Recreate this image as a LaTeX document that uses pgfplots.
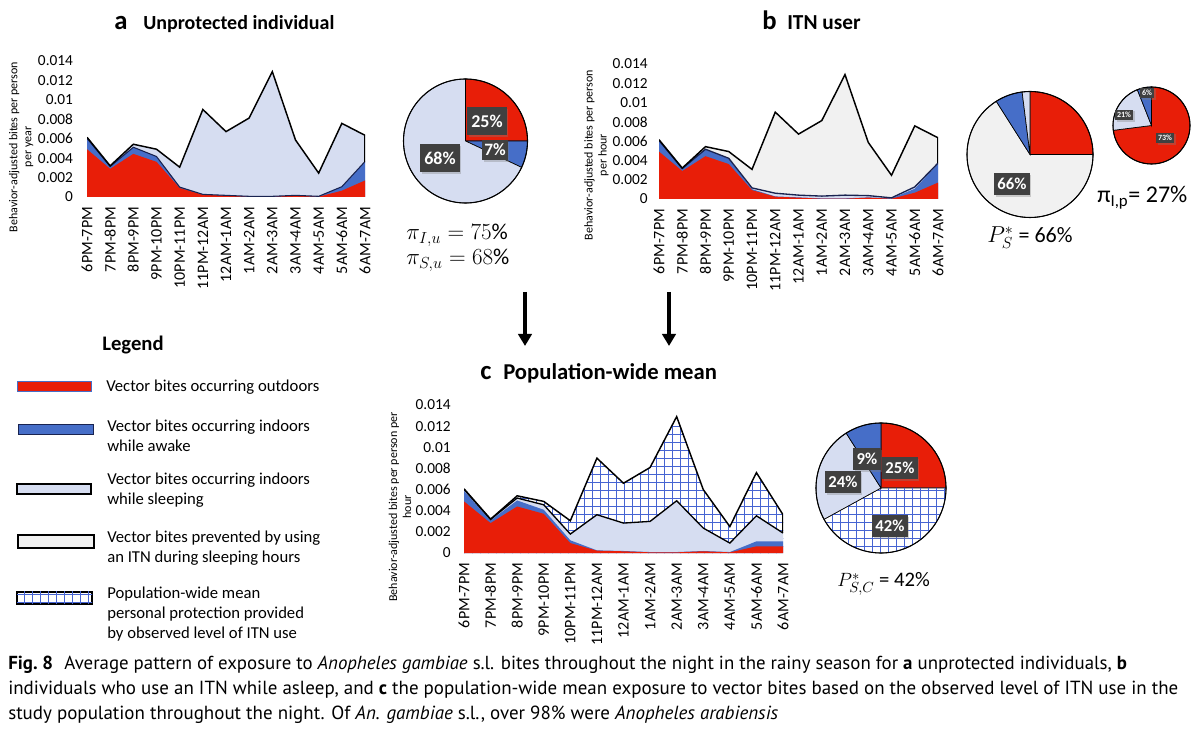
\documentclass[border=0pt]{standalone}
\usepackage{pgfplots}
\pgfplotsset{compat=1.18}
\usepackage{pgfplotstable}
\usepackage{graphicx}
\usepackage{fontspec}
\setmainfont{Carlito}
\newfontfamily\capfont{PT Sans}
\usetikzlibrary{patterns,shadows,arrows.meta}

\definecolor{cRed}{RGB}{232,30,8}
\definecolor{cBlue}{RGB}{70,110,200}
\definecolor{cLB}{RGB}{214,221,241}
\definecolor{cGray}{RGB}{241,241,241}
\definecolor{cGrid}{RGB}{70,100,210}
\definecolor{cNavy}{RGB}{25,35,80}
\definecolor{cBox}{RGB}{64,64,64}

\pgfdeclarepatternformonly{mygrid}{\pgfqpoint{-1pt}{-1pt}}{\pgfqpoint{7pt}{7pt}}{\pgfqpoint{6pt}{6pt}}{%
  \pgfsetlinewidth{0.6pt}%
  \pgfpathmoveto{\pgfqpoint{-1pt}{0pt}}\pgfpathlineto{\pgfqpoint{7pt}{0pt}}%
  \pgfpathmoveto{\pgfqpoint{0pt}{-1pt}}\pgfpathlineto{\pgfqpoint{0pt}{7pt}}%
  \pgfusepath{stroke}}

% Panel a: cumulative layers (outdoor, +indoor awake, total incl. indoor sleeping)
\pgfplotstableread{
x red rb tot
0 0.00492 0.00604 0.00615
1 0.00290 0.00314 0.00321
2 0.00444 0.00512 0.00543
3 0.00362 0.00417 0.00492
4 0.00092 0.00102 0.00307
5 0.00024 0.00027 0.00901
6 0.00014 0.00017 0.00673
7 0.00003 0.00007 0.00813
8 0.00003 0.00007 0.01290
9 0.00014 0.00017 0.00587
10 0.00003 0.00007 0.00246
11 0.00065 0.00106 0.00758
12 0.00170 0.00365 0.00635
}\dataA
% Panel b: outdoor, +awake, +sleeping under ITN, total (incl. prevented)
\pgfplotstableread{
x red rb rbs tot
0 0.00492 0.00604 0.00607 0.00615
1 0.00290 0.00314 0.00316 0.00321
2 0.00444 0.00512 0.00516 0.00543
3 0.00362 0.00417 0.00422 0.00492
4 0.00092 0.00102 0.00115 0.00307
5 0.00024 0.00027 0.00060 0.00901
6 0.00014 0.00017 0.00040 0.00673
7 0.00003 0.00007 0.00030 0.00813
8 0.00003 0.00007 0.00040 0.01290
9 0.00014 0.00017 0.00035 0.00587
10 0.00003 0.00007 0.00012 0.00246
11 0.00065 0.00106 0.00125 0.00758
12 0.00170 0.00365 0.00372 0.00635
}\dataB
% Panel c: outdoor, +awake, +sleeping (mean), total (incl. protection)
\pgfplotstableread{
x red rb rbs tot
0 0.00488 0.00588 0.00603 0.00607
1 0.00283 0.00308 0.00318 0.00320
2 0.00440 0.00497 0.00520 0.00541
3 0.00371 0.00409 0.00456 0.00488
4 0.00094 0.00120 0.00179 0.00305
5 0.00022 0.00025 0.00362 0.00897
6 0.00016 0.00019 0.00283 0.00660
7 0.00006 0.00009 0.00299 0.00809
8 0.00006 0.00009 0.00494 0.01290
9 0.00016 0.00019 0.00236 0.00600
10 0.00006 0.00009 0.00094 0.00250
11 0.00063 0.00110 0.00352 0.00760
12 0.00063 0.00110 0.00189 0.00362
}\dataC

\pgfplotsset{
  panel/.style={
    scale only axis, xmin=0, xmax=12, ymin=0, ymax=0.014,
    axis line style={draw=none}, tick style={draw=none},
    xtick={0,...,12},
    xticklabels={6PM-7PM,7PM-8PM,8PM-9PM,9PM-10PM,10PM-11PM,11PM-12AM,12AM-1AM,1AM-2AM,2AM-3AM,3AM-4AM,4AM-5AM,5AM-6AM,6AM-7AM},
    ytick={0,0.002,0.004,0.006,0.008,0.01,0.012,0.014},
    yticklabels={0,0.002,0.004,0.006,0.008,0.01,0.012,0.014},
    scaled y ticks=false,
    xticklabel style={rotate=90, anchor=east, font=\fontsize{12}{13}\selectfont},
    yticklabel style={font=\fontsize{11.5}{13}\selectfont},
    xticklabel shift=4pt,
    no marks,
    ylabel style={anchor=center, align=center, font=\fontsize{9}{10.5}\selectfont},
  },
}
\tikzset{
  pR/.style={fill=cRed, draw=black, line width=0.5pt},
  pB/.style={fill=cBlue, draw=black, line width=0.5pt},
  pL/.style={fill=cLB, draw=black, line width=0.5pt},
  pG/.style={fill=cGray, draw=black, line width=0.5pt},
  pH/.style={fill=white, postaction={pattern=mygrid, pattern color=cGrid}, draw=black, line width=0.5pt},
  lab/.style={fill=cBox, text=white, font=\bfseries, inner xsep=2pt, inner ysep=1pt,
    drop shadow={shadow xshift=1.2pt, shadow yshift=-1.2pt, opacity=0.35}},
}
\newcommand{\pie}[4]{%
  \begin{scope}[shift={({#1*0.75pt},{-#2*0.75pt})}]
    \xdef\acc{90}%
    \foreach \v/\s in {#4}{%
      \pgfmathsetmacro\anext{\acc-3.6*\v}%
      \path[\s] (0,0) -- ({\acc}:{#3*0.75pt}) arc[start angle=\acc, end angle=\anext, radius={#3*0.75pt}] -- cycle;
      \global\let\acc\anext
    }%
    \draw[line width=0.8pt] (0,0) circle[radius={#3*0.75pt}];
  \end{scope}}

\begin{document}
\begin{tikzpicture}
\fill[white] (0,0) rectangle (900pt,-547.5pt);
\path[use as bounding box] (0,0) rectangle (900pt,-547.5pt);

% ---------- Panel a ----------
\begin{axis}[panel, at={(65.25pt,-147.75pt)}, anchor=south west,
  width=208.5pt, height=102pt, yticklabel shift=7pt,
  ylabel={Behavior-adjusted bites per person\\per year},
  ylabel style={at={(axis description cs:-0.237,0.368)}}]
  \addplot[fill=cLB, draw=none] table[x=x,y=tot]{\dataA} \closedcycle;
  \addplot[fill=cBlue, draw=none] table[x=x,y=rb]{\dataA} \closedcycle;
  \addplot[fill=cRed, draw=none] table[x=x,y=red]{\dataA} \closedcycle;
  \addplot[cNavy, line width=0.8pt] table[x=x,y=rb]{\dataA};
  \addplot[black, line width=1.1pt] table[x=x,y=tot]{\dataA};
  \addplot[black, line width=0.8pt] coordinates {(12,0.00365) (12,0.00635)};
\end{axis}

% ---------- Panel b ----------
\begin{axis}[panel, at={(494.25pt,-149.25pt)}, anchor=south west,
  width=209.25pt, height=101.25pt, yticklabel shift=5pt,
  ylabel={Behavior-adjusted bites per person\\per hour},
  ylabel style={at={(axis description cs:-0.224,0.326)}}]
  \addplot[fill=cGray, draw=none] table[x=x,y=tot]{\dataB} \closedcycle;
  \addplot[fill=cLB, draw=none] table[x=x,y=rbs]{\dataB} \closedcycle;
  \addplot[fill=cBlue, draw=none] table[x=x,y=rb]{\dataB} \closedcycle;
  \addplot[fill=cRed, draw=none] table[x=x,y=red]{\dataB} \closedcycle;
  \addplot[cNavy, line width=1pt] table[x=x,y=rbs]{\dataB};
  \addplot[black, line width=1.1pt] table[x=x,y=tot]{\dataB};
  \addplot[black, line width=0.8pt] coordinates {(12,0.00372) (12,0.00635)};
\end{axis}

% ---------- Panel c ----------
\begin{axis}[panel, at={(348pt,-414.75pt)}, anchor=south west,
  width=239.25pt, height=111pt, yticklabel shift=6.5pt,
  ylabel={Behavior-adjusted bites per person per\\hour},
  ylabel style={at={(axis description cs:-0.2006,0.311)}}]
  \addplot[pattern=mygrid, pattern color=cGrid, draw=none] table[x=x,y=tot]{\dataC} \closedcycle;
  \addplot[fill=cLB, draw=none] table[x=x,y=rbs]{\dataC} \closedcycle;
  \addplot[fill=cBlue, draw=none] table[x=x,y=rb]{\dataC} \closedcycle;
  \addplot[fill=cRed, draw=none] table[x=x,y=red]{\dataC} \closedcycle;
  \addplot[black, line width=1pt] table[x=x,y=rbs]{\dataC};
  \addplot[black, line width=1.1pt] table[x=x,y=tot]{\dataC};
  \addplot[black, line width=0.8pt] coordinates {(12,0.00189) (12,0.00362)};
\end{axis}

% ---------- Pies ----------
\pie{465.5}{141}{62}{25/pR,7/pB,68/pL}
\pie{1030}{154.5}{63}{25/pR,66/pG,7/pB,2/pL}
\pie{1151.5}{125.5}{38.5}{73/pR,21/pL,6/pB}
\pie{881}{488}{65}{25/pR,42/pH,24/pL,9/pB}

\begin{scope}[x=0.75pt,y=-0.75pt]
  % pie labels
  \node[lab, font=\bfseries\fontsize{13.5}{14}\selectfont, minimum height=21pt, inner xsep=3pt] at (487,121) {25\%};
  \node[lab, font=\bfseries\fontsize{13}{14}\selectfont, minimum height=15pt, inner xsep=1.5pt] at (495,150) {7\%};
  \node[lab, font=\bfseries\fontsize{13.5}{14}\selectfont, minimum height=21pt, inner xsep=3pt] at (440,158) {68\%};
  \node[lab, font=\bfseries\fontsize{12.5}{13}\selectfont, minimum height=16.5pt, inner xsep=2.5pt] at (1012,184) {66\%};
  \node[lab, font=\bfseries\fontsize{6}{7}\selectfont, minimum height=8pt, inner xsep=1.5pt] at (1147,93) {6\%};
  \node[lab, font=\bfseries\fontsize{6}{7}\selectfont, minimum height=8pt, inner xsep=1.5pt] at (1124,115) {21\%};
  \node[lab, font=\bfseries\fontsize{6}{7}\selectfont, minimum height=8pt, inner xsep=1.5pt] at (1165,138) {73\%};
  \node[lab, font=\bfseries\fontsize{12.5}{13}\selectfont, minimum height=16.5pt, inner xsep=2.5pt] at (867,459) {9\%};
  \node[lab, font=\bfseries\fontsize{12.5}{13}\selectfont, minimum height=16.5pt, inner xsep=2.5pt] at (900,468) {25\%};
  \node[lab, font=\bfseries\fontsize{12.5}{13}\selectfont, minimum height=16.5pt, inner xsep=2.5pt] at (843,482) {24\%};
  \node[lab, font=\bfseries\fontsize{12.5}{13}\selectfont, minimum height=16.5pt, inner xsep=2.5pt] at (890,526) {42\%};

  % formulas
  \node[anchor=base west, inner sep=0, font=\fontsize{17}{18}\selectfont] at (406,240) {$\pi_{I,u} = 75\%$};
  \node[anchor=base west, inner sep=0, font=\fontsize{17}{18}\selectfont] at (406,265) {$\pi_{S,u} = 68\%$};
  \node[anchor=base west, inner sep=0, font=\fontsize{16.5}{17}\selectfont] at (987,243) {$P^{*}_{S}$ = 66\%};
  \node[anchor=base west, inner sep=0, font=\fontsize{18}{19}\selectfont] at (1097,203) {π\textsubscript{I,p}= 27\%};
  \node[anchor=base west, inner sep=0, font=\fontsize{15.5}{16}\selectfont] at (837,587) {$P^{*}_{S,C}$ = 42\%};

  % panel titles
  \node[anchor=base west, inner sep=0, font=\bfseries\fontsize{20}{20}\selectfont] at (114,30) {a};
  \node[anchor=base west, inner sep=0, font=\bfseries\fontsize{15}{16}\selectfont] at (143,30) {Unprotected individual};
  \node[anchor=base west, inner sep=0, font=\bfseries\fontsize{20}{20}\selectfont] at (762,30) {b};
  \node[anchor=base west, inner sep=0, font=\bfseries\fontsize{16}{16}\selectfont] at (787,30) {ITN user};
  \node[anchor=base west, inner sep=0, font=\bfseries\fontsize{20}{20}\selectfont] at (480,380) {c};
  \node[anchor=base west, inner sep=0, font=\bfseries\fontsize{17}{18}\selectfont] at (503,380) {Population-wide mean};

  % arrows
  \draw[line width=2.8pt, -{Triangle[length=9pt,width=10pt]}] (525,292) -- (525,346);
  \draw[line width=2.8pt, -{Triangle[length=9pt,width=10pt]}] (669,292) -- (669,346);

  % legend
  \node[font=\bfseries\fontsize{15.5}{16}\selectfont] at (133,345) {Legend};
  \fill[cRed, draw=cBlue, line width=0.6pt] (17,381) rectangle (91,391);
  \fill[cBlue, draw=cNavy, line width=0.6pt] (18,424) rectangle (93,434);
  \fill[cLB, draw=black, line width=1.1pt] (17,484) rectangle (91,494);
  \fill[cGray, draw=black, line width=1.1pt] (18,535) rectangle (94,548);
  \path[fill=white, postaction={pattern=mygrid, pattern color=cGrid}, draw=black, line width=1.1pt] (17,592) rectangle (92,604);
  \begin{scope}[every node/.style={anchor=west, align=left, inner sep=0, font=\fontsize{12.5}{15}\selectfont}]
    \node at (106,387) {Vector bites occurring outdoors};
    \node at (107,436) {Vector bites occurring indoors\\while awake};
    \node at (107,490) {Vector bites occurring indoors\\while sleeping};
    \node at (107,548) {Vector bites prevented by using\\an ITN during sleeping hours};
    \node at (107,614) {Population-wide mean\\personal protection provided\\by observed level of ITN use};
  \end{scope}

  % caption
  \node[anchor=base west, inner sep=0] at (8,670) {\resizebox{839pt}{!}{\capfont\fontsize{13}{15}\selectfont\textbf{Fig.~8}\hspace{0.6em}Average pattern of exposure to \textit{Anopheles gambiae} s.l. bites throughout the night in the rainy season for \textbf{a} unprotected individuals, \textbf{b}}};
  \node[anchor=base west, inner sep=0] at (8,695) {\resizebox{877.5pt}{!}{\capfont\fontsize{13}{15}\selectfont individuals who use an ITN while asleep, and \textbf{c} the population-wide mean exposure to vector bites based on the observed level of ITN use in the}};
  \node[anchor=base west, inner sep=0] at (8,719) {\resizebox{577.5pt}{!}{\capfont\fontsize{13}{15}\selectfont study population throughout the night. Of \textit{An. gambiae} s.l., over 98\% were \textit{Anopheles arabiensis}}};
\end{scope}
\end{tikzpicture}
\end{document}
